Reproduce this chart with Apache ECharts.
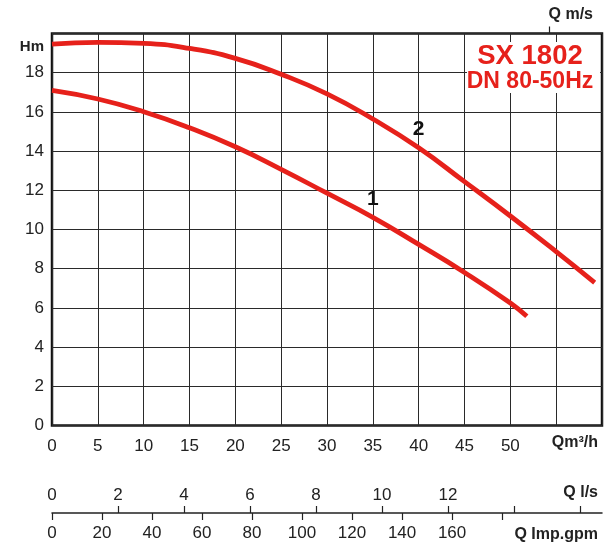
<!DOCTYPE html>
<html>
<head>
<meta charset="utf-8">
<script src="https://cdn.jsdelivr.net/npm/echarts@6/dist/echarts.min.js"></script>
<style>
  html, body { margin: 0; padding: 0; background: #fff; }
  #chart { width: 614px; height: 548px; }
</style>
</head>
<body>
<div id="chart"></div>
<script>
// Pump performance curves, SX 1802 (DN 80, 50 Hz): head Hm versus flow Q (m³/h)
const flow2 = [0, 5, 10, 15, 20, 25, 30, 35, 40, 45, 50, 55, 59.2];
const head2 = [19.46, 19.55, 19.5, 19.24, 18.73, 17.92, 16.92, 15.64, 14.17, 12.44, 10.69, 8.87, 7.29];
const flow1 = [0, 5, 10, 15, 20, 25, 30, 35, 40, 45, 50, 51.8];
const head1 = [17.10, 16.66, 16.01, 15.19, 14.22, 13.07, 11.85, 10.62, 9.24, 7.81, 6.25, 5.57];

// index on each curve where its number is written
const curveTags = [
  { name: '1', flow: flow1, head: head1, at: 7 },
  { name: '2', flow: flow2, head: head2, at: 8 }
];

// axis ranges and tick labels
const flowMax = 60;                     // m³/h
const headMax = 20;                     // m
const lsTickValues = [2, 4, 6, 8, 10, 12, 14, 16];
const lsLabelValues = [0, 2, 4, 6, 8, 10, 12];
const gpmTickValues = [0, 20, 40, 60, 80, 100, 120, 140, 160, 180];
const gpmLabelValues = [0, 20, 40, 60, 80, 100, 120, 140, 160];
const msTickValues = [54.2];

const RED = '#e6211b';
const INK = '#222';
const FONT = '"Liberation Sans", Arial, sans-serif';

const zip = (xs, ys) => xs.map((x, i) => [x, ys[i]]);

const chart = echarts.init(document.getElementById('chart'), null, { renderer: 'canvas' });

const option = {
  animation: false,
  textStyle: { fontFamily: FONT },
  grid: {
    left: 52, right: 12, top: 33.5, bottom: 122.5,
    show: true, borderColor: '#111', borderWidth: 2.5, backgroundColor: '#fff'
  },
  xAxis: [
    {
      type: 'value', min: 0, max: flowMax, interval: 5,
      axisLine: { show: false }, axisTick: { show: false },
      axisLabel: {
        fontSize: 17, color: INK, fontFamily: FONT, margin: 12,
        formatter: v => (v <= 50 ? String(v) : '')
      },
      splitLine: { show: true, lineStyle: { color: '#2a2a2a', width: 1 } }
    },
    {
      // litres per second scale (1 l/s = 3.6 m³/h)
      type: 'value', min: 0, max: flowMax / 3.6, position: 'bottom', offset: 87.5,
      axisLine: { show: false },
      axisTick: { show: true, inside: true, length: 7, customValues: lsTickValues, lineStyle: { color: INK, width: 1.2 } },
      axisLabel: { inside: true, margin: 9, fontSize: 17, color: INK, fontFamily: FONT, customValues: lsLabelValues },
      splitLine: { show: false }
    },
    {
      // imperial gallons per minute scale (1 m³/h = 3.666 Imp.gpm)
      type: 'value', min: 0, max: flowMax * 3.666, position: 'bottom', offset: 87.5,
      axisLine: { show: true, lineStyle: { color: INK, width: 1.5 } },
      axisTick: { show: true, inside: false, length: 7, customValues: gpmTickValues, lineStyle: { color: INK, width: 1.2 } },
      axisLabel: { margin: 12, fontSize: 17, color: INK, fontFamily: FONT, customValues: gpmLabelValues },
      splitLine: { show: false }
    },
    {
      type: 'value', min: 0, max: flowMax, position: 'top',
      axisLine: { show: false },
      axisTick: { show: true, length: 7, customValues: msTickValues, lineStyle: { color: INK, width: 1.2 } },
      axisLabel: { show: false },
      splitLine: { show: false }
    }
  ],
  yAxis: {
    type: 'value', min: 0, max: headMax, interval: 2,
    axisLine: { show: false }, axisTick: { show: false },
    axisLabel: {
      fontSize: 17, color: INK, fontFamily: FONT, margin: 8,
      formatter: v => (v < headMax ? String(v) : '')
    },
    splitLine: { show: true, lineStyle: { color: '#2a2a2a', width: 1 } }
  },
  series: [
    {
      type: 'line', name: '1', data: zip(flow1, head1), smooth: 0.5,
      symbol: 'none', lineStyle: { color: RED, width: 4.8 }, z: 3
    },
    {
      type: 'line', name: '2', data: zip(flow2, head2), smooth: 0.5,
      symbol: 'none', lineStyle: { color: RED, width: 4.8 }, z: 3
    },
    {
      type: 'scatter', symbolSize: 0, z: 4,
      itemStyle: { opacity: 1 },
      data: curveTags.map(t => ({
        value: [t.flow[t.at], t.head[t.at]],
        label: { formatter: t.name }
      })),
      label: {
        show: true, position: 'top', distance: 8, opacity: 1,
        fontSize: 21, fontWeight: 'bold', color: '#111', fontFamily: FONT
      }
    }
  ],
  graphic: [
    {
      type: 'rect', z: 10,
      shape: { x: 467, y: 42, width: 133, height: 51 },
      style: { fill: '#fff' }
    },
    {
      type: 'text', z: 11, x: 530, y: 56.5,
      style: { text: 'SX 1802', textAlign: 'center', textVerticalAlign: 'middle',
        fontSize: 27.5, fontWeight: 'bold', fontFamily: FONT, fill: RED }
    },
    {
      type: 'text', z: 11, x: 530, y: 82,
      style: { text: 'DN 80-50Hz', textAlign: 'center', textVerticalAlign: 'middle',
        fontSize: 23, fontWeight: 'bold', fontFamily: FONT, fill: RED }
    },
    {
      type: 'text', z: 11, x: 44, y: 47,
      style: { text: 'Hm', textAlign: 'right', textVerticalAlign: 'middle',
        fontSize: 15, fontWeight: 'bold', fontFamily: FONT, fill: INK }
    },
    {
      type: 'text', z: 11, x: 593, y: 15,
      style: { text: 'Q m/s', textAlign: 'right', textVerticalAlign: 'middle',
        fontSize: 16, fontWeight: 'bold', fontFamily: FONT, fill: INK }
    },
    {
      type: 'text', z: 11, x: 598, y: 443,
      style: { text: 'Qm³/h', textAlign: 'right', textVerticalAlign: 'middle',
        fontSize: 16, fontWeight: 'bold', fontFamily: FONT, fill: INK }
    },
    {
      type: 'text', z: 11, x: 598, y: 493,
      style: { text: 'Q l/s', textAlign: 'right', textVerticalAlign: 'middle',
        fontSize: 16, fontWeight: 'bold', fontFamily: FONT, fill: INK }
    },
    {
      type: 'text', z: 11, x: 598, y: 535,
      style: { text: 'Q Imp.gpm', textAlign: 'right', textVerticalAlign: 'middle',
        fontSize: 16, fontWeight: 'bold', fontFamily: FONT, fill: INK }
    }
  ]
};

chart.setOption(option);
</script>
</body>
</html>
